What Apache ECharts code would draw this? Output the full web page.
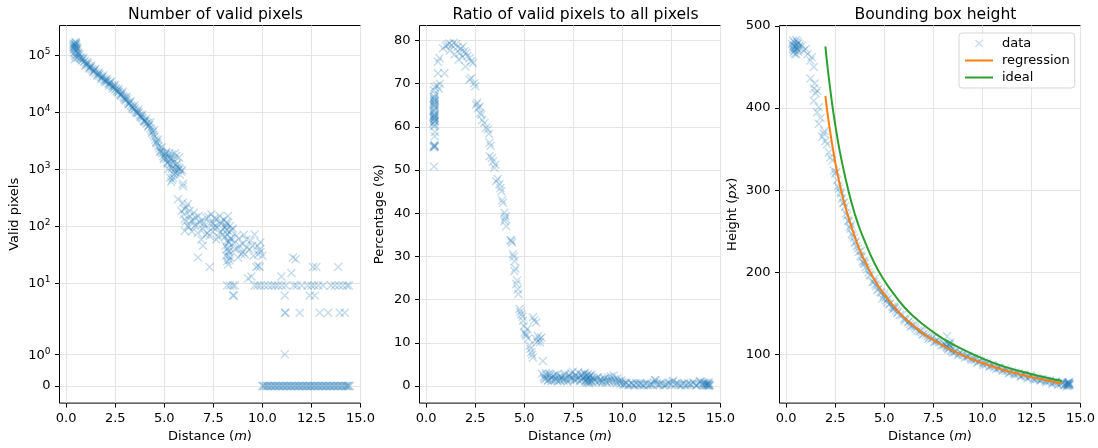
<!DOCTYPE html>
<html>
<head>
<meta charset="utf-8">
<script src="https://cdn.jsdelivr.net/npm/echarts@6.0.0/dist/echarts.min.js"></script>
<style>
  html, body { margin: 0; background: #fff; }
  #chart { width: 1098px; height: 448px; }
</style>
</head>
<body>
<div id="chart"></div>
<script>
// x ticks shared by all three panels
const xTicks = [0, 2.5, 5, 7.5, 10, 12.5, 15]

// panel 1: number of valid pixels (symlog axis)
const validTicks = [0, 1, 10, 100, 1000, 10000, 100000]
const validX = [
  0.36, 0.38, 0.40, 0.42, 0.44, 0.46, 0.48, 0.50, 0.52, 0.38, 0.41, 0.45, 0.49, 0.53, 0.55, 0.58, 0.60, 0.43, 0.47, 0.56, 0.62, 0.37, 0.51, 0.54, 0.47,
  0.65, 0.7, 0.75, 0.8, 0.85, 0.9, 0.95, 1.0, 1.05, 1.1, 1.15, 1.2, 1.25, 1.3, 1.35, 1.4, 1.45, 1.5, 1.6, 1.65, 1.7, 1.75, 1.8, 1.85, 1.9, 1.95,
  2.0, 2.05, 2.1, 2.15, 2.2, 2.25, 2.3, 2.35, 2.4, 2.45, 2.5, 2.55, 2.6, 2.65, 2.7, 2.75, 2.8, 2.85, 2.9, 2.95,
  3.0, 3.05, 3.1, 3.15, 3.2, 3.25, 3.3, 3.35, 3.4, 3.45, 3.5, 3.55, 3.6, 3.65, 3.7, 3.75, 3.8, 3.85, 3.9, 3.95,
  4.0, 4.05, 4.1, 4.15, 4.2, 4.25, 4.3, 4.35, 4.4, 4.45, 4.5, 4.55, 4.6, 4.65, 4.7, 4.75, 4.8, 4.85, 4.9, 4.95,
  5.0, 5.05, 5.1, 5.15, 5.2, 5.25, 5.3, 5.35, 5.4, 5.45, 5.5, 5.55, 5.6, 5.65, 5.7, 5.75, 5.8, 5.85,
  5.3, 5.4, 5.5, 5.2, 5.35, 5.95, 5.1, 5.25, 5.4, 5.6,
  0.68, 0.78, 0.88, 0.98, 1.08, 1.18, 1.28, 1.38, 1.48, 1.58, 1.68, 1.78, 1.88, 1.98, 2.08, 2.18, 2.28, 2.38, 2.48, 2.58,
  2.68, 2.78, 2.88, 2.98, 3.08, 3.18, 3.28, 3.38, 3.48, 3.58, 3.68, 3.78, 3.88, 3.98, 4.08, 4.18, 4.28, 4.38, 4.48, 4.58,
  4.68, 4.78, 4.88, 4.98, 5.08, 5.18, 5.28, 5.38, 5.48, 5.58, 5.68, 5.78, 5.9, 5.55, 5.75, 5.45,
  5.95, 5.7, 5.95, 6.2, 6.04, 5.87, 6.29, 6.04, 6.38, 6.2, 6.55, 6.04, 6.8, 6.97, 7.14, 7.4, 7.65, 7.82, 8.25, 7.48,
  7.82, 7.31, 6.97, 6.72, 7.31, 6.89, 7.65, 7.99, 8.1, 8.1, 8.12, 8.15, 8.2, 8.3, 8.3, 8.3, 8.25, 8.67, 8.84, 8.93,
  9.18, 9.35, 9.6, 9.86, 9.78, 9.1, 8.59, 8.76, 9.69, 9.86, 9.78, 9.44, 9.27, 10.97, 11.48, 11.56, 11.7, 12.58, 12.75, 13.86,
  6.5, 6.1, 7.0, 7.2, 7.6, 7.9, 8.0, 8.5, 8.4, 9.0, 9.5, 9.9, 10.0, 6.6, 6.3, 7.5, 8.2, 8.35, 8.2, 8.25, 8.35,
  6.0, 6.1, 6.25, 6.4, 6.45, 6.6, 6.7, 6.75, 6.9, 7.05, 7.1, 7.25, 7.35, 7.45, 7.55, 7.7, 7.75, 7.9, 8.05, 8.15,
  8.18, 8.22, 8.28, 8.32, 8.38, 8.45, 8.55, 8.7, 8.8, 9.0, 9.05, 9.2, 9.4, 9.55, 9.75, 9.9, 8.15, 8.2, 8.27, 8.33,
  11.14, 12.67, 12.41, 8.5, 8.55, 11.14, 11.18, 11.9, 12.92, 13.35, 13.94, 14.2, 11.14,
  8.2, 8.35, 8.5, 8.6, 9.6, 9.75, 9.9, 10.1, 10.3, 10.5, 10.65, 10.8, 11.0, 11.2, 11.6, 11.75, 12.0, 12.3, 12.5, 12.65, 12.85, 13.1, 13.5, 13.7, 13.9, 14.1, 14.3, 14.4,
  10.0, 10.1, 10.2, 10.3, 10.4, 10.5, 10.6, 10.7, 10.8, 10.9, 11.0, 11.1, 11.2, 11.3, 11.4, 11.5, 11.6, 11.7, 11.8, 11.9, 12.0, 12.1, 12.2,
  12.3, 12.4, 12.5, 12.6, 12.7, 12.8, 12.9, 13.0, 13.1, 13.2, 13.3, 13.4, 13.5, 13.6, 13.7, 13.8, 13.9, 14.0, 14.1, 14.2, 14.3, 14.4, 14.45,
  10.05, 10.25, 10.45, 10.65, 10.85, 11.05, 11.25, 11.45, 11.65, 11.85, 12.05, 12.25, 12.45, 12.65, 12.85, 13.05, 13.25, 13.45, 13.65, 13.85, 14.05, 14.25, 14.35
]
const validY = [
  150000, 160000, 140000, 130000, 155000, 145000, 120000, 165000, 135000, 125000, 110000, 100000, 150000, 140000, 115000, 130000, 105000, 85000, 95000, 90000, 110000, 138000, 158000, 125000, 170000,
  95000, 88000, 92000, 80000, 84000, 76000, 79000, 72000, 68000, 70000, 64000, 60000, 62000, 57000, 55000, 52000, 54000, 49000, 47000, 44000, 46000, 42000, 40000, 41000, 38000, 36000,
  37000, 34000, 35000, 32000, 31000, 33000, 30000, 28000, 29000, 27000, 25000, 26000, 24000, 22000, 23000, 21000, 20000, 21500, 19000, 18000,
  17500, 16000, 17000, 15000, 14000, 14500, 13000, 12500, 12000, 11000, 11500, 10500, 10000, 9500, 9800, 9000, 8600, 8000, 7800, 7200,
  7000, 6800, 6300, 6500, 5800, 6000, 5200, 4800, 4500, 4000, 3700, 3300, 3000, 2800, 2500, 2300, 2100, 2000, 1900, 1700,
  1600, 1800, 1500, 1300, 1700, 1400, 1200, 1500, 1100, 1300, 900, 1000, 1200, 1100, 950, 1050, 1000, 900,
  700, 650, 800, 1000, 600, 550, 2000, 1900, 1800, 1700,
  104000, 86000, 90000, 66000, 75000, 58000, 66000, 50000, 57000, 44000, 50000, 38000, 44000, 34000, 38000, 29000, 34000, 26000, 30000, 23000,
  25500, 19500, 23000, 16500, 18500, 13800, 15500, 11500, 13000, 9700, 11000, 8200, 9000, 6800, 7600, 5600, 6600, 4300, 4800, 2900,
  3300, 2000, 2400, 1500, 1900, 1250, 1600, 1000, 1450, 850, 1250, 800, 950, 1900, 1600, 700,
  500, 295, 257, 240, 196, 183, 183, 131, 123, 100, 100, 82, 115, 88, 140, 160, 131, 150, 150, 94,
  76, 67, 45, 28, 19, 58, 58, 88, 94, 65, 45, 30, 24, 79, 53, 36, 21, 67, 45, 32,
  58, 39, 71, 39, 32, 32, 39, 28, 19, 19, 20, 13, 12, 13, 15, 28, 26, 19, 19, 19,
  170, 210, 110, 75, 100, 120, 70, 90, 60, 48, 45, 52, 30, 140, 150, 110, 110, 100, 40, 35, 28,
  160, 120, 95, 80, 130, 105, 75, 150, 125, 100, 70, 145, 110, 80, 135, 95, 65, 110, 130, 115,
  85, 70, 50, 42, 60, 85, 50, 40, 60, 35, 70, 42, 55, 30, 45, 35, 100, 55, 30, 25,
  6, 6, 6, 6, 6, 3, 3, 3, 3, 3, 3, 3, 1,
  9, 9, 9, 9, 9, 9, 9, 9, 9, 9, 9, 9, 9, 9, 9, 9, 9, 9, 9, 9, 9, 9, 9, 9, 9, 9, 9, 9,
  0, 0, 0, 0, 0, 0, 0, 0, 0, 0, 0, 0, 0, 0, 0, 0, 0, 0, 0, 0, 0, 0, 0,
  0, 0, 0, 0, 0, 0, 0, 0, 0, 0, 0, 0, 0, 0, 0, 0, 0, 0, 0, 0, 0, 0, 0,
  0, 0, 0, 0, 0, 0, 0, 0, 0, 0, 0, 0, 0, 0, 0, 0, 0, 0, 0, 0, 0, 0, 0
]

// panel 2: ratio of valid pixels (%)
const ratioTicks = [0, 10, 20, 30, 40, 50, 60, 70, 80]
const ratioX = [
  0.4, 0.45, 0.42, 0.38, 0.44, 0.4, 0.36, 0.42, 0.46, 0.4, 0.38, 0.44, 0.41, 0.39, 0.43, 0.45, 0.37, 0.41, 0.44, 0.4, 0.42, 0.46, 0.39, 0.43, 0.41, 0.4, 0.44, 0.42, 0.45,
  0.4, 0.42, 0.38, 0.44, 0.41, 0.43, 0.4, 0.42, 0.39, 0.45,
  0.6, 0.93, 0.6, 0.68, 0.55, 0.65, 0.7,
  0.85, 1.0, 1.1, 1.19, 1.3, 1.4, 1.53, 1.6, 1.7, 1.75, 1.87, 1.95, 2.04, 2.1, 2.21, 2.3, 2.38, 1.45, 1.65, 1.85, 2.0, 1.2,
  2.21, 2.3, 2.46, 2.5, 2.55, 2.6, 2.65, 2.72, 2.75, 2.81, 2.85, 2.97, 3.05, 3.14, 3.2, 3.23, 3.28, 3.23, 3.35, 3.4, 3.48, 3.52,
  3.57, 3.65, 3.74, 3.78, 3.83, 3.91, 3.87, 3.99, 4.05, 3.99, 4.08, 4.02, 4.3, 4.34, 4.38, 4.42, 4.46, 4.5, 4.5, 4.55,
  4.59, 4.63, 4.67, 4.7, 4.76, 4.8, 4.85, 4.9, 4.93, 4.98, 5.02, 5.06, 5.1, 5.15, 5.2, 5.27, 5.31, 5.36, 5.44, 5.4,
  5.44, 5.5, 5.61, 5.61, 5.7, 5.78, 5.87, 5.8, 5.95, 5.65,
  5.9, 6.0, 6.05, 6.1, 6.15, 6.2, 6.3, 6.35, 6.4, 6.5, 6.55, 6.6, 6.7, 6.75, 6.8, 6.9, 7.0, 7.05, 7.1, 7.2,
  7.3, 7.35, 7.4, 7.5, 7.55, 7.6, 7.7, 7.75, 7.8, 7.9, 7.95, 8.0, 8.05, 8.1, 8.15, 8.2, 8.2, 8.25, 8.25, 8.3,
  8.3, 8.35, 8.4, 8.45, 8.5, 8.6, 8.7, 8.8, 8.9, 9.0, 9.1, 9.2, 9.3, 9.4, 9.5, 9.6, 9.7, 9.8, 9.9, 10.0,
  10.1, 10.2, 10.35, 10.5, 10.6, 10.75, 10.9, 11.0, 11.15, 11.3, 11.45, 11.6, 11.7, 11.8, 11.95, 12.1, 12.25, 12.4, 12.55, 12.7,
  12.85, 13.0, 13.15, 13.3, 13.45, 13.6, 13.75, 13.9, 14.0, 14.1, 14.2, 14.3, 14.35, 14.4, 14.45, 14.3, 14.4, 14.2,
  6.02, 6.12, 6.22, 6.28, 6.38, 6.48, 6.62, 6.68, 6.82, 6.88, 6.98, 7.08, 7.18, 7.28, 7.38, 7.48, 7.58, 7.68, 7.82, 7.88,
  7.98, 8.08, 8.12, 8.18, 8.22, 8.28, 8.32, 8.38, 8.42, 8.55, 8.65, 8.75, 8.85, 8.95, 9.05, 9.15, 9.25, 9.35, 9.45, 9.55,
  9.65, 9.75, 9.85, 9.95, 10.05, 10.15, 10.3, 10.45, 10.55, 10.7, 10.85, 10.95, 11.1, 11.25, 11.4, 11.55, 11.65, 11.75, 11.9, 12.05,
  12.2, 12.35, 12.5, 12.6, 12.75, 12.9, 13.05, 13.2, 13.35, 13.5, 13.65, 13.8, 13.95, 14.05, 14.15, 14.25, 14.4, 14.45, 14.35
]
const ratioY = [
  50.8, 55.5, 55.8, 55.3, 57.8, 60.1, 60.8, 61.2, 61.5, 62, 62.3, 62.6, 63, 63.5, 64, 64.5, 65, 65.5, 66, 66.5, 67, 67.5, 68.5, 69.2, 61.8, 62.8, 65.2, 66.3, 58.8,
  62.5, 61.3, 63.8, 64.8, 66.8, 60.5, 55.6, 55.4, 65.8, 62.1,
  72.4, 72.4, 75.1, 75.9, 69.5, 68.8, 70,
  78.2, 78.8, 79, 79.3, 78.9, 79.5, 79.2, 78.5, 77.1, 78.1, 78.6, 77.5, 77.1, 76.4, 75.9, 75.2, 74.8, 76.8, 75.6, 76.2, 74.0, 77.7,
  70.9, 71.3, 70.1, 69.4, 65.1, 65.6, 64.3, 64.7, 63.2, 62.8, 61.6, 60.9, 59.8, 59.4, 58.4, 56.3, 55.6, 53.2, 52.8, 52.0, 50.5, 51.2,
  47.4, 47.9, 46.7, 45.8, 45.1, 42.4, 43.0, 40.1, 39.3, 38.2, 37.0, 38.8, 33.8, 33.6, 33.2, 30.5, 29.9, 28.9, 26.6, 27.2,
  23.6, 24.4, 22.4, 21.3, 17.8, 17.2, 16.6, 16.0, 15.1, 13.9, 12.4, 12.0, 11.6, 13.2, 11.0, 9.3, 8.6, 7.8, 6.6, 7.2,
  15.9, 15.2, 14.7, 10.9, 11.5, 10.8, 11.2, 10.1, 5.8, 10.2,
  2.8, 2.2, 1.5, 3.0, 1.9, 1.2, 2.4, 1.6, 2.0, 1.3, 2.6, 1.8, 1.1, 2.1, 1.5, 1.9, 1.2, 2.4, 1.7, 1.0,
  2.2, 1.5, 2.9, 1.8, 1.2, 2.5, 1.6, 3.2, 2.0, 1.3, 2.6, 1.7, 2.9, 1.0, 2.2, 1.5, 0.8, 2.7, 1.2, 1.9,
  0.6, 2.4, 1.4, 1.0, 2.0, 1.3, 1.8, 0.9, 1.5, 1.1, 1.8, 0.8, 1.3, 2.2, 1.0, 1.6, 0.7, 1.2, 0.5, 0.9,
  0.3, 0.6, 0.2, 0.5, 0.1, 0.4, 0.7, 0.2, 0.5, 0.1, 0.4, 0.8, 1.3, 0.3, 0.6, 0.1, 0.4, 0.8, 1.0, 0.3,
  0.5, 0.1, 0.6, 0.2, 0.4, 0.8, 0.1, 0.5, 1.0, 0.2, 0.6, 0.1, 0.4, 0.0, 0.3, 0.7, 0.9, 0.1,
  1.8, 2.6, 1.4, 2.9, 1.1, 2.3, 1.5, 2.7, 1.2, 2.2, 1.6, 2.8, 1.4, 2.6, 1.9, 3.3, 1.5, 2.3, 1.1, 2.5,
  1.9, 3.0, 1.3, 2.4, 1.7, 0.9, 2.2, 1.1, 2.6, 1.6, 1.0, 2.1, 1.4, 0.8, 1.6, 1.1, 2.0, 1.0, 1.5, 2.4,
  1.1, 1.7, 0.9, 1.3, 0.4, 0.8, 0.2, 0.6, 0.3, 0.7, 0.2, 0.5, 0.1, 0.6, 0.3, 0.2, 1.4, 0.7, 0.2, 0.5,
  0.2, 0.6, 0.3, 1.2, 0.6, 0.2, 0.5, 0.1, 0.6, 0.3, 0.5, 0.2, 1.1, 0.4, 0.8, 0.3, 0.5, 0.1, 0.2
]

// panel 3: bounding box height (px)
const heightTicks = [100, 200, 300, 400, 500]
const heightX = [
  0.3, 0.33, 0.35, 0.38, 0.4, 0.42, 0.45, 0.47, 0.5, 0.52, 0.55, 0.58, 0.6, 0.62, 0.36, 0.44, 0.5, 0.57, 0.65, 0.7, 0.4, 0.53,
  0.8, 0.9, 1.0, 1.1, 1.24, 1.3, 1.41, 1.24, 1.41, 1.58, 1.45, 1.41, 1.66, 1.58, 1.5, 1.66, 1.75, 1.92, 1.84, 1.95,
  2.09, 2.0, 2.17, 2.25, 2.35, 2.43, 2.5, 2.6, 2.7, 2.77, 2.85, 2.94, 3.0, 3.11, 3.2, 3.28, 3.4, 3.54, 3.65, 3.79,
  3.9, 4.0, 4.13, 4.3, 4.47, 4.6, 4.8, 4.98, 5.1, 5.25, 5.4, 5.49, 5.6, 5.8, 6.0, 6.2, 6.4, 6.6, 6.8, 7.0,
  7.2, 7.4, 7.6, 7.8, 8.0, 8.2, 8.3, 8.25, 8.4, 8.6, 8.8, 9.0, 9.2, 9.4, 9.6, 9.8, 10.0, 10.2, 10.4, 10.6,
  10.8, 11.0, 11.2, 11.4, 11.6, 11.8, 12.0, 12.2, 12.4, 12.6, 12.8, 13.0, 13.2, 13.4, 13.6, 13.8, 14.0, 14.2,
  14.3, 14.35, 14.4, 14.45, 14.3, 14.4,
  3.3, 3.5, 3.8, 4.0, 4.2, 4.5, 4.7, 5.0, 5.2, 5.5, 5.7, 6.1, 6.3, 6.5, 6.9, 7.3, 7.7, 8.1, 8.35, 8.5,
  8.9, 9.3, 9.7, 10.1, 10.5, 10.9, 11.3, 11.7, 12.1, 12.5, 12.9, 13.3, 13.7, 14.1, 8.2,
  2.55, 2.65, 2.8, 2.9, 3.05, 3.15, 3.25, 3.35, 3.45, 3.6, 3.7, 3.85, 3.95, 4.05, 4.25, 4.4, 4.55, 4.65, 4.85, 4.9,
  5.05, 5.15, 5.3, 5.45, 5.55, 5.65, 5.9, 6.05, 6.25, 6.35, 6.55, 6.7, 6.85, 6.95, 7.1, 7.25, 7.45, 7.55, 7.75, 7.9,
  8.05, 8.15, 8.22, 8.27, 8.3, 8.33, 8.38, 8.45, 8.65, 8.75, 8.95, 9.1, 9.25, 9.45, 9.55, 9.75, 9.9, 10.05, 10.25, 10.35,
  10.55, 10.7, 10.85, 11.05, 11.15, 11.35, 11.5, 11.65, 11.85, 11.95, 12.15, 12.3, 12.45, 12.65, 12.75, 12.95, 13.05, 13.25, 13.45, 13.55,
  13.75, 13.85, 14.05, 14.15, 14.25, 14.33, 14.38, 14.42, 14.36, 14.41, 14.44
]
const heightY = [
  478, 472, 482, 468, 476, 480, 470, 474, 483, 466, 478, 472, 469, 479, 475, 466, 476, 481, 474, 477, 471, 473,
  476, 470, 472, 466, 458, 462, 450, 436, 424, 421, 430, 409, 401, 395, 418, 381, 388, 369, 365, 372,
  356, 360, 346, 340, 336, 324, 320, 312, 302, 298, 290, 285, 280, 269, 262, 253, 245, 237, 229, 220,
  213, 210, 204, 196, 188, 183, 176, 171, 166, 161, 158, 157, 153, 148, 143, 139, 135, 131, 128, 125,
  122, 119, 116, 114, 111, 109, 112, 106, 105, 103, 101, 99, 97, 95, 93, 91, 89, 88, 86, 84,
  83, 81, 80, 78, 77, 76, 74, 73, 72, 71, 70, 69, 68, 67, 66, 65, 64, 63,
  65, 62, 64, 63, 61, 66,
  258, 236, 226, 214, 200, 192, 180, 174, 168, 158, 152, 144, 137, 135, 127, 121, 117, 112, 114, 102,
  102, 97, 94, 90, 87, 83, 80, 78, 75, 73, 70, 68, 66, 65, 122,
  322, 305, 296, 284, 272, 263, 255, 247, 242, 232, 225, 219, 211, 206, 197, 188, 185, 178, 175, 168,
  169, 163, 162, 155, 156, 150, 148, 141, 140, 134, 133, 129, 129, 124, 124, 119, 120, 115, 116, 111,
  113, 110, 108, 113, 107, 111, 109, 104, 104, 99, 100, 96, 98, 93, 95, 90, 92, 87, 89, 85,
  86, 82, 84, 80, 82, 77, 79, 75, 77, 73, 75, 71, 74, 69, 71, 68, 70, 66, 68, 64,
  67, 63, 66, 62, 64, 63, 65, 62, 64, 66, 64
]
const fitX = [2.0, 2.1, 2.2, 2.35, 2.5, 2.65, 2.8, 3.0, 3.25, 3.5, 3.75, 4.0, 4.5, 5.0, 5.5, 6.0, 6.5, 7.0, 7.5, 8.0, 9.0, 10.0, 11.0, 12.0, 13.0, 14.05]
const regressionY = [415, 395, 378, 355, 334, 316, 300, 281, 261, 243, 227, 214, 191, 173, 158, 145, 134.7, 125, 117.5, 110.5, 98.8, 89.4, 81.6, 75.1, 69.6, 64.6]
const idealY = [475, 452, 432, 404, 380, 358, 339, 317, 292, 271, 253, 238, 211, 190, 173, 158, 146, 136, 127, 119, 106, 95, 86, 79, 73, 67.5]

const FONT = 'DejaVu Sans'
const BLUE = 'rgba(31,119,180,0.32)'
const CROSS = 'path://M0,0.11L0.11,0L0.5,0.39L0.89,0L1,0.11L0.61,0.5L1,0.89L0.89,1L0.5,0.61L0.11,1L0,0.89L0.39,0.5Z'

// symlog scale (linthresh 2, linscale 1) in decade units
const symlog = (v) => {
  const lin = 2
  const a = 1 / (1 - 1 / 10)
  return v <= lin ? v * a / lin : a + Math.log10(v / lin)
}

const zip = (xs, ys, f = (v) => v) => xs.map((x, i) => [x, f(ys[i])])

const gridLine = { show: true, lineStyle: { color: '#e4e4e4', width: 1 } }
const tickStyle = { length: 4.5, lineStyle: { color: '#000', width: 1 } }
const labelBase = { color: '#000', fontSize: 13, fontFamily: FONT }
const noLine = { show: false, onZero: false }

const makeX = (idx) => ({
  type: 'value',
  gridIndex: idx,
  min: -0.34,
  max: 15,
  axisLine: noLine,
  axisTick: { ...tickStyle, customValues: xTicks },
  axisLabel: { ...labelBase, margin: 9, customValues: xTicks, formatter: (v) => v.toFixed(1) },
  splitLine: gridLine,
  name: 'Distance ({i|m})',
  nameLocation: 'middle',
  nameGap: 25,
  nameTextStyle: { ...labelBase, rich: { i: { ...labelBase, fontStyle: 'italic' } } }
})

const leftTickPos = validTicks.map(symlog)
const leftLabel = (t) => {
  const i = leftTickPos.findIndex((p) => Math.abs(p - t) < 1e-6)
  if (i < 0) return ''
  const v = validTicks[i]
  if (v === 0) return '0'
  return '{b|10}{s|' + Math.round(Math.log10(v)) + '}'
}

const scatterBase = { type: 'scatter', symbol: CROSS, symbolSize: 9, itemStyle: { color: BLUE } }

const option = {
  animation: false,
  backgroundColor: '#fff',
  title: [
    { text: 'Number of valid pixels', left: 210.5, top: 2, textAlign: 'center' },
    { text: 'Ratio of valid pixels to all pixels', left: 570.5, top: 2, textAlign: 'center' },
    { text: 'Bounding box height', left: 930.5, top: 2, textAlign: 'center' }
  ].map((t) => ({ ...t, textStyle: { fontFamily: FONT, fontSize: 15.6, fontWeight: 'normal', color: '#000' } })),
  legend: {
    data: [
      { name: 'data' },
      { name: 'regression', itemStyle: { opacity: 0 } },
      { name: 'ideal', itemStyle: { opacity: 0 } }
    ],
    orient: 'vertical',
    left: 959,
    top: 33,
    padding: [4, 5, 4, 5],
    itemWidth: 28,
    itemHeight: 8,
    itemGap: 4,
    borderColor: 'rgba(204,204,204,0.8)',
    borderWidth: 1,
    borderRadius: 3,
    backgroundColor: 'rgba(255,255,255,0.8)',
    textStyle: { ...labelBase, padding: [0, 0, 0, 4] }
  },
  // half-pixel offsets keep the black frame crisp
  grid: [
    { left: 59.5, top: 25.5, width: 301, height: 378 },
    { left: 419.5, top: 25.5, width: 301, height: 378 },
    { left: 779.5, top: 25.5, width: 301, height: 378 }
  ].map((g) => ({ ...g, show: true, borderColor: '#000', borderWidth: 1, backgroundColor: 'transparent' })),
  xAxis: [makeX(0), makeX(1), makeX(2)],
  yAxis: [
    {
      type: 'value',
      gridIndex: 0,
      min: -0.3,
      max: 6.33,
      axisLine: noLine,
      axisTick: { ...tickStyle, customValues: leftTickPos },
      axisLabel: {
        ...labelBase,
        margin: 9,
        customValues: leftTickPos,
        formatter: leftLabel,
        rich: {
          b: { ...labelBase, verticalAlign: 'bottom' },
          s: { ...labelBase, fontSize: 9, verticalAlign: 'bottom', padding: [0, 0, 6, 0] }
        }
      },
      splitLine: gridLine,
      name: 'Valid pixels',
      nameLocation: 'middle',
      nameGap: 38,
      nameTextStyle: labelBase
    },
    {
      type: 'value',
      gridIndex: 1,
      min: -3.97,
      max: 83.47,
      axisLine: noLine,
      axisTick: { ...tickStyle, customValues: ratioTicks },
      axisLabel: { ...labelBase, margin: 9, customValues: ratioTicks },
      splitLine: gridLine,
      name: 'Percentage (%)',
      nameLocation: 'middle',
      nameGap: 33,
      nameTextStyle: labelBase
    },
    {
      type: 'value',
      gridIndex: 2,
      min: 40.6,
      max: 500.6,
      axisLine: noLine,
      axisTick: { ...tickStyle, customValues: heightTicks },
      axisLabel: { ...labelBase, margin: 9, customValues: heightTicks },
      splitLine: gridLine,
      name: 'Height ({i|px})',
      nameLocation: 'middle',
      nameGap: 40,
      nameTextStyle: { ...labelBase, rich: { i: { ...labelBase, fontStyle: 'italic' } } }
    }
  ],
  series: [
    { ...scatterBase, name: 'valid', xAxisIndex: 0, yAxisIndex: 0, data: zip(validX, validY, symlog) },
    { ...scatterBase, name: 'ratio', xAxisIndex: 1, yAxisIndex: 1, data: zip(ratioX, ratioY) },
    { ...scatterBase, name: 'data', xAxisIndex: 2, yAxisIndex: 2, data: zip(heightX, heightY) },
    {
      name: 'regression',
      type: 'line',
      xAxisIndex: 2,
      yAxisIndex: 2,
      smooth: true,
      symbol: 'none',
      lineStyle: { color: '#ff7f0e', width: 2 },
      itemStyle: { color: '#ff7f0e' },
      z: 3,
      data: zip(fitX, regressionY)
    },
    {
      name: 'ideal',
      type: 'line',
      xAxisIndex: 2,
      yAxisIndex: 2,
      smooth: true,
      symbol: 'none',
      lineStyle: { color: '#2ca02c', width: 2 },
      itemStyle: { color: '#2ca02c' },
      z: 3,
      data: zip(fitX, idealY)
    }
  ]
}

const chart = echarts.init(document.getElementById('chart'))
chart.setOption(option)
</script>
</body>
</html>
